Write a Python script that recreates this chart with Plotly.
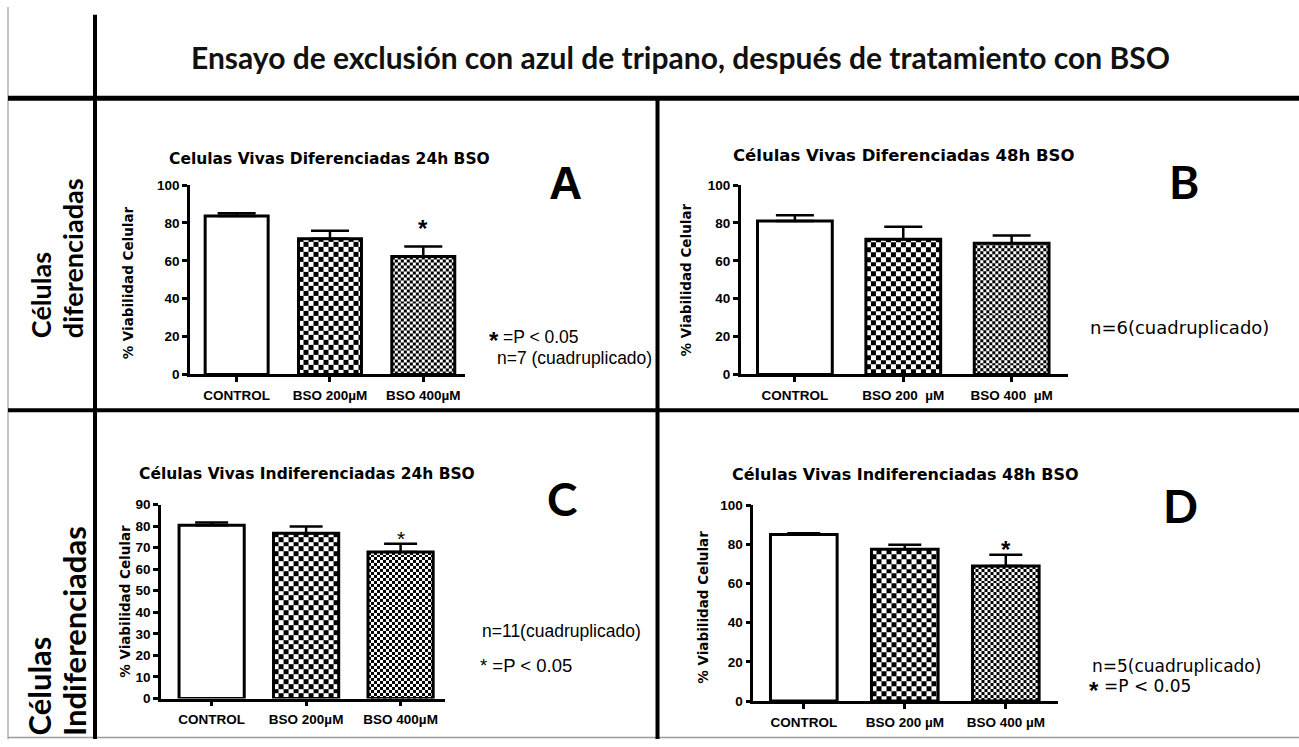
import numpy as np
import plotly.graph_objects as go

W, H = 1299, 747

# ---- data: % cell viability (mean and SEM) ----
categories_A = ["CONTROL", "BSO 200µM", "BSO 400µM"]
mean_A = [83.6, 71.6, 62.3]
sem_A = [1.5, 4.3, 5.3]

categories_B = ["CONTROL", "BSO 200  µM", "BSO 400  µM"]
mean_B = [81.0, 71.4, 69.3]
sem_B = [3.1, 6.6, 4.1]

categories_C = ["CONTROL", "BSO 200µM", "BSO 400µM"]
mean_C = [80.4, 76.7, 68.0]
sem_C = [1.3, 3.1, 3.8]

categories_D = ["CONTROL", "BSO 200 µM", "BSO 400 µM"]
mean_D = [85.0, 77.5, 68.9]
sem_D = [0.6, 2.2, 5.8]

titles = [
    "Celulas Vivas Diferenciadas 24h BSO",
    "Células Vivas Diferenciadas 48h BSO",
    "Células Vivas Indiferenciadas 24h BSO",
    "Células Vivas Indiferenciadas 48h BSO",
]
letters = ["A", "B", "C", "D"]
significant = [[False, False, True], [False, False, False],
               [False, False, True], [False, False, True]]
main_title = "Ensayo de exclusión con azul de tripano, después de tratamiento con BSO"
y_title = "% Viabilidad Celular"


def fx(px):
    return px / W


def fy(py):
    return 1 - py / H


# panel geometry in pixels: plot box, axis ranges, bar width, cap half-width
geoms = [
    dict(x0=190, x1=465, y0=375, y1=181.7, xr=[-0.5, 2.447], ymax=100, dtick=20, bw=0.675, cap=19,
         title=(329, 155, 15.5), letter=(565, 180), ytitle=(128, 281), star=(24, "bold", 2)),
    dict(x0=740.7, x1=1068, y0=375, y1=181.7, xr=[-0.5, 2.52], ymax=100, dtick=20, bw=0.69, cap=19,
         title=(903, 152, 16.5), letter=(1184, 178), ytitle=(686, 279), star=(24, "bold", 0)),
    dict(x0=161, x1=445, y0=705.7, y1=507.7, xr=[-0.536, 2.47], ymax=90, dtick=10, bw=0.69, cap=16.5,
         title=(306.5, 477, 15.5), letter=(562, 502), ytitle=(125, 607), star=(21, "normal", -8)),
    dict(x0=753.3, x1=1058, y0=708.3, y1=508.3, xr=[-0.5, 2.517], ymax=100, dtick=20, bw=0.66, cap=16.5,
         title=(905, 477, 16), letter=(1180, 509), ytitle=(703, 613), star=(24, "bold", -10)),
]
cats = [categories_A, categories_B, categories_C, categories_D]
means = [mean_A, mean_B, mean_C, mean_D]
sems = [sem_A, sem_B, sem_C, sem_D]

SANS = "Liberation Sans, Arial, sans-serif"
WIDE = "DejaVu Sans, Verdana, sans-serif"
tickfont = dict(family=SANS, size=13.5, color="black", weight="bold")

fig = go.Figure()
layout = dict(
    width=W, height=H, autosize=False,
    margin=dict(l=0, r=0, t=0, b=0, pad=0),
    paper_bgcolor="white", plot_bgcolor="rgba(0,0,0,0)",
    showlegend=False,
)
annotations = []
xs = [0, 1, 2]


def paper_text(text, x, y, font, xanchor="center", yanchor="middle", angle=0):
    return dict(text=text, x=fx(x), y=fy(y), xref="paper", yref="paper",
                xanchor=xanchor, yanchor=yanchor, textangle=angle,
                showarrow=False, font=font)


for i, g in enumerate(geoms):
    n = i + 1
    xa = "x" if n == 1 else f"x{n}"
    ya = "y" if n == 1 else f"y{n}"
    ppx = (g["x1"] - g["x0"]) / (g["xr"][1] - g["xr"][0])
    ppy = (g["y0"] - g["y1"]) / g["ymax"]
    m = means[i]
    s = sems[i]

    # checkerboard fills: coarse for 200 µM, fine for 400 µM
    for j, cell in ((1, 5.0), (2, 3.0)):
        c, v, w = xs[j], m[j], g["bw"]
        xe = np.append(np.arange(c - w / 2, c + w / 2 - 1e-6, cell / ppx), c + w / 2)
        ye = np.append(np.arange(0, v - 1e-6, cell / ppy), v)
        z = np.add.outer(np.arange(len(ye) - 1), np.arange(len(xe) - 1)) % 2
        fig.add_trace(go.Heatmap(
            x=xe, y=ye, z=z, zmin=0, zmax=1,
            colorscale=[[0, "white"], [1, "black"]], showscale=False,
            hoverinfo="skip", xaxis=xa, yaxis=ya,
        ))

    fig.add_trace(go.Bar(
        x=xs, y=m, width=g["bw"],
        marker=dict(color=["white", "rgba(0,0,0,0)", "rgba(0,0,0,0)"],
                    line=dict(color="black", width=3)),
        error_y=dict(type="data", symmetric=False, array=s, arrayminus=[0, 0, 0],
                     color="black", thickness=2.5, width=g["cap"]),
        xaxis=xa, yaxis=ya, showlegend=False, hoverinfo="skip",
    ))

    sfx = "" if n == 1 else str(n)
    layout[f"xaxis{sfx}"] = dict(
        domain=[fx(g["x0"]), fx(g["x1"])], range=g["xr"], anchor=ya,
        tickmode="array", tickvals=xs, ticktext=cats[i],
        showline=True, linewidth=2.5, linecolor="black",
        ticks="outside", ticklen=5, tickwidth=2.5, tickcolor="black",
        showgrid=False, zeroline=False, tickfont=tickfont, ticklabelstandoff=2,
        fixedrange=True,
    )
    layout[f"yaxis{sfx}"] = dict(
        domain=[fy(g["y0"]), fy(g["y1"])], range=[0, g["ymax"]], anchor=xa,
        tick0=0, dtick=g["dtick"],
        showline=True, linewidth=2.5, linecolor="black",
        ticks="outside", ticklen=5, tickwidth=2.5, tickcolor="black",
        showgrid=False, zeroline=False, tickfont=tickfont, fixedrange=True,
    )

    # panel title, letter, y-axis title
    tx, ty, tsz = g["title"]
    annotations.append(paper_text(titles[i], tx, ty,
                                  dict(family=WIDE, size=tsz, weight="bold", color="black")))
    lx, ly = g["letter"]
    annotations.append(paper_text(letters[i], lx, ly,
                                  dict(family=SANS if i == 0 else "Lato, sans-serif", size=46,
                                       weight="bold", color="black")))
    yx, yy = g["ytitle"]
    annotations.append(paper_text(y_title, yx, yy,
                                  dict(family=WIDE, size=13.5, weight="bold", color="black"),
                                  angle=-90))

    # significance asterisks above the error bars
    ssz, swt, sshift = g["star"]
    for j in xs:
        if significant[i][j]:
            annotations.append(dict(text="*", x=j, y=m[j] + s[j], xref=xa, yref=ya,
                                    xanchor="center", yanchor="bottom", yshift=sshift,
                                    showarrow=False,
                                    font=dict(family=SANS, size=ssz, weight=swt, color="black")))

# notes next to the panels
f_a = dict(family=SANS, size=17.5, color="black")
f_wide = dict(family=WIDE, size=17, color="black")
star_font = dict(family=SANS, size=24, weight="bold", color="black")
notes = [
    ("*", 487, 340, star_font), ("=P < 0.05", 501, 337, f_a),
    ("n=7 (cuadruplicado)", 495, 358, f_a),
    ("n=6(cuadruplicado)", 1088, 327, dict(family=WIDE, size=18, color="black")),
    ("n=11(cuadruplicado)", 480, 637, f_a),
    ("* =P < 0.05", 478, 672, dict(family=SANS, size=18.5, color="black")),
    ("n=5(cuadruplicado)", 1090, 673, f_wide),
    ("*", 1087, 697, star_font), ("=P < 0.05", 1102, 693, f_wide),
]
for txt, x, y, f in notes:
    annotations.append(paper_text(txt, x, y, f, xanchor="left"))

# header and row labels
annotations.append(paper_text(main_title, 680, 51,
                              dict(family="Lato, sans-serif", size=30, weight="bold", color="#111111")))
row_upper = dict(family="Lato, sans-serif", size=27, weight="bold", color="black")
row_lower = dict(family="Lato, sans-serif", size=31, weight="bold", color="black")
for txt, x, ybottom, f in (("Células", 40, 340, row_upper), ("diferenciadas", 72, 340, row_upper),
                           ("Células", 39, 746, row_lower), ("Indiferenciadas", 74, 746, row_lower)):
    annotations.append(paper_text(txt, x, ybottom, f, yanchor="bottom", angle=-90))


# table frame
def hline(y, x0, x1, width, color="black"):
    return dict(type="line", xref="paper", yref="paper", x0=fx(x0), x1=fx(x1),
                y0=fy(y), y1=fy(y), line=dict(color=color, width=width))


def vline(x, y0, y1, width, color="black"):
    return dict(type="line", xref="paper", yref="paper", x0=fx(x), x1=fx(x),
                y0=fy(y0), y1=fy(y1), line=dict(color=color, width=width))


shapes = [
    vline(8, 0, 747, 1.5, "#b0b0b0"),
    hline(745.5, 8, 1299, 1.5, "#9a9a9a"),
    vline(95, 8, 747, 4),
    hline(93, 8, 1299, 5),
    hline(411.5, 8, 1299, 4),
    vline(657.5, 93, 747, 4),
]

layout["annotations"] = annotations
layout["shapes"] = shapes
fig.update_layout(**layout)
fig.write_html("out.html")
